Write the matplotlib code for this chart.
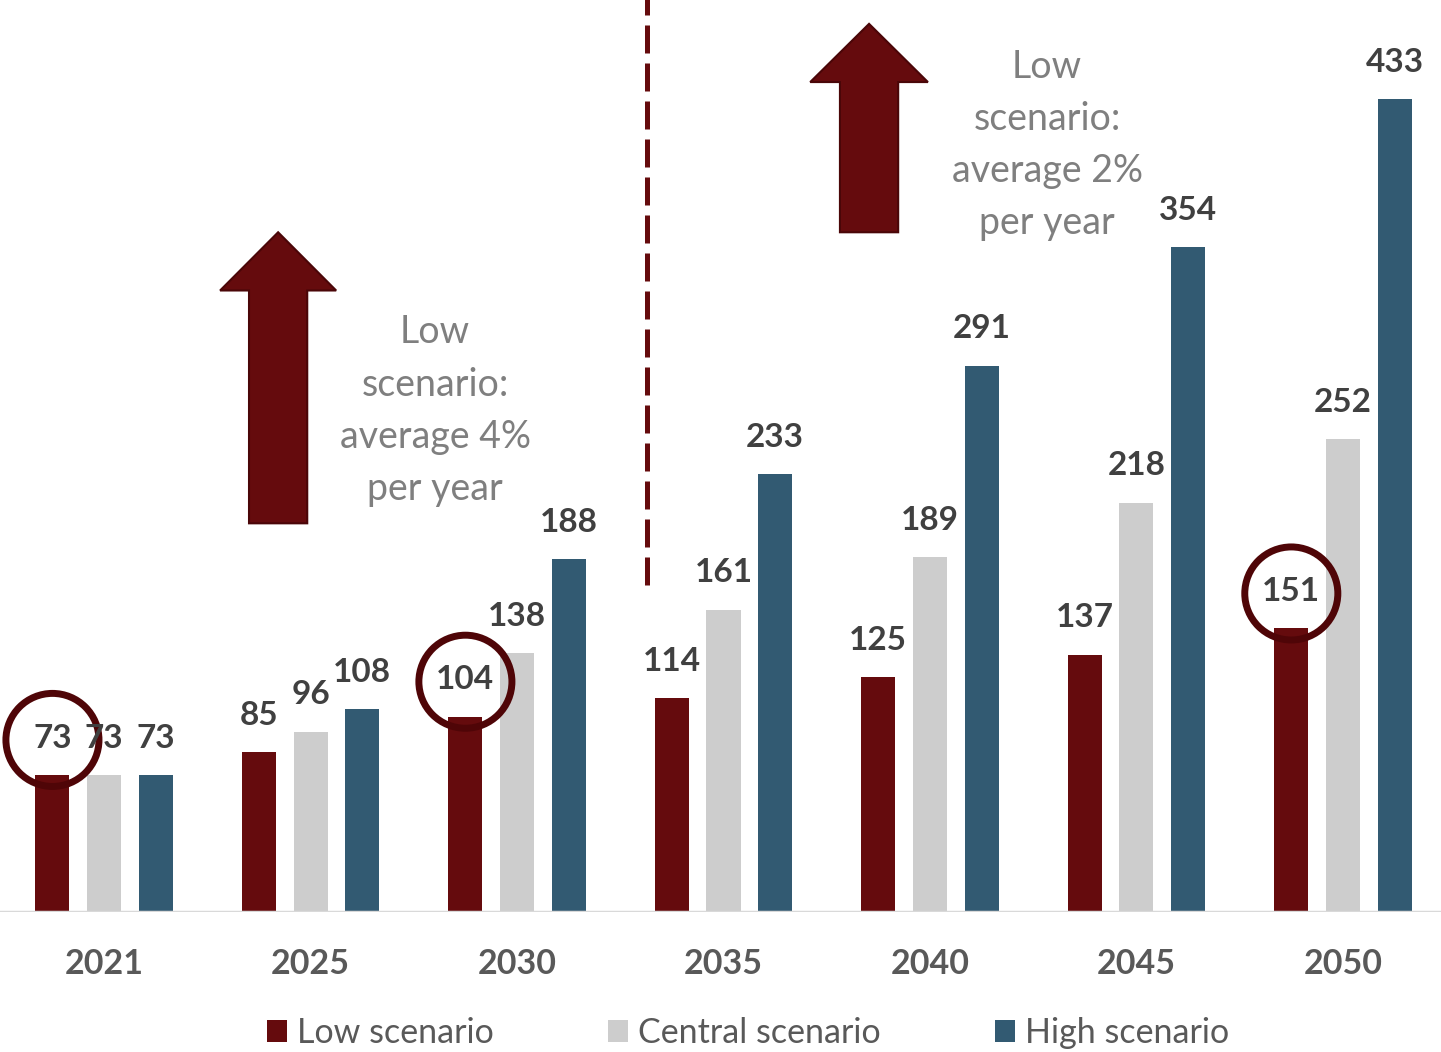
import matplotlib.pyplot as plt
import numpy as np
from matplotlib.transforms import offset_copy

plt.rcParams['font.family'] = ['Lato', 'DejaVu Sans']

# datos
years = ['2021', '2025', '2030', '2035', '2040', '2045', '2050']
low = [73, 85, 104, 114, 125, 137, 151]
central = [73, 96, 138, 161, 189, 218, 252]
high = [73, 108, 188, 233, 291, 354, 433]
circled = ['2021', '2030', '2050']  # valores del escenario bajo marcados
note_left = "Low\nscenario:\naverage 4%\nper year"
note_right = "Low\nscenario:\naverage 2%\nper year"

c_low = '#650b0d'
c_cen = '#cdcdcd'
c_high = '#325a72'
c_ring = '#4f0507'
c_lab = '#404040'
c_txt = '#7f7f7f'

fig = plt.figure(figsize=(14.41, 10.52), dpi=100)
ax = fig.add_axes([0, 140 / 1052, 1, 912 / 1052])

x = np.arange(len(years))
w = 0.165
d = 0.25
series = [(low, c_low, 'Low scenario', -d),
          (central, c_cen, 'Central scenario', 0),
          (high, c_high, 'High scenario', d)]

for vals, col, name, off in series:
    ax.bar(x + off, vals, w, color=col, label=name, zorder=3)
    for xi, v in zip(x + off, vals):
        ax.annotate(str(v), (xi, v), xytext=(0, 26.5), textcoords='offset points',
                    ha='center', va='center', fontsize=24, fontweight='bold',
                    color=c_lab, zorder=6)

# circulos
tr = offset_copy(ax.transData, fig=fig, x=0, y=25.2, units='points')
idx = [years.index(y) for y in circled]
ax.scatter(x[idx] - d, np.array(low)[idx], s=67 ** 2, facecolors='none',
           edgecolors=c_ring, linewidths=5, transform=tr, zorder=5)

# flechas
def flecha(xc, half_shaft, half_head, y0, y_base, y_tip):
    px = [xc - half_shaft, xc + half_shaft, xc + half_shaft, xc + half_head,
          xc, xc - half_head, xc - half_shaft]
    py = [y0, y0, y_base, y_base, y_tip, y_base, y_base]
    ax.fill(px, py, color=c_low, ec='#4a0608', lw=1.5, zorder=4)

flecha(0.843, 0.141, 0.281, 207, 331, 362)
flecha(3.705, 0.141, 0.285, 362, 442, 473)

ax.text(1.603, 267, note_left, ha='center', va='center', fontsize=27,
        color=c_txt, linespacing=1.56)
ax.text(4.567, 408.5, note_right, ha='center', va='center', fontsize=27,
        color=c_txt, linespacing=1.56)

# linea divisoria
ax.vlines(2.63, 174, 490, colors=c_low, lw=3.6, linestyles=(0, (5.6, 2)),
          zorder=2)

ax.axhline(0, color='#d9d9d9', lw=2.5, zorder=4)
ax.set_xlim(-0.504, 6.475)
ax.set_ylim(0, 485.7)
ax.set_xticks(x)
ax.set_xticklabels(years, fontsize=24.5, fontweight='bold', color='#595959')
ax.tick_params(axis='x', length=0, pad=26)
ax.set_yticks([])
for s in ax.spines.values():
    s.set_visible(False)

fig.legend(loc='center', bbox_to_anchor=(748 / 1441, 1 - 1033 / 1052), ncol=3,
           frameon=False, fontsize=24.5, labelcolor='#595959',
           handlelength=0.6, handleheight=0.6, handletextpad=0.3,
           columnspacing=3.34, borderaxespad=0)

plt.savefig("out.png")
